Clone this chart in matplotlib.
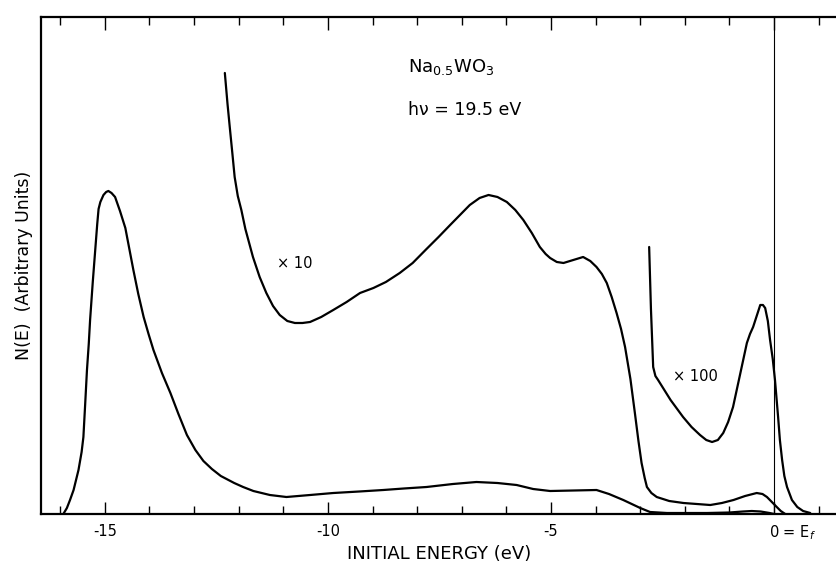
import numpy as np
import matplotlib.pyplot as plt
import matplotlib.transforms as mtransforms
from matplotlib.ticker import MultipleLocator

# energies (eV) and N(E) (arbitrary units)
main_E = [-15.93, -15.85, -15.78, -15.70, -15.59, -15.52, -15.48, -15.44, -15.40, -15.36,
          -15.33, -15.27, -15.22, -15.17, -15.14, -15.10, -15.03, -14.97, -14.92, -14.85,
          -14.77, -14.66, -14.54, -14.45, -14.36, -14.25, -14.13, -14.02, -13.91, -13.72,
          -13.53, -13.35, -13.16, -12.97, -12.79, -12.60, -12.40, -12.10, -11.90, -11.67,
          -11.30, -10.93, -10.40, -9.88, -9.30, -8.76, -8.30, -7.79, -7.20, -6.67,
          -6.20, -5.77, -5.40, -5.02, -4.50, -3.98, -3.70, -3.38, -3.00, -2.78,
          -2.40, -1.50, -1.00, -0.70, -0.50, -0.30, -0.10, 0.00]
main_N = [0, 6, 14, 24, 44, 62, 77, 110, 144, 170,
          194, 232, 261, 290, 305, 312, 319, 322, 323, 321,
          317, 303, 286, 265, 244, 220, 197, 180, 164, 141,
          121, 100, 79, 64, 53, 45, 38, 31, 27, 23,
          19, 17, 19, 21, 22.5, 24, 25.5, 27, 30, 32,
          31, 29, 25, 23, 23.5, 24, 20, 14, 6, 2,
          1, 1, 1.5, 2.5, 3, 2.5, 1, 0]

x10_E = [-12.31, -12.25, -12.20, -12.14, -12.09, -12.02, -11.94, -11.85, -11.68, -11.53,
         -11.38, -11.23, -11.08, -10.91, -10.74, -10.57, -10.40, -10.15, -9.88, -9.58,
         -9.28, -8.98, -8.70, -8.39, -8.10, -7.79, -7.52, -7.26, -7.04, -6.82,
         -6.60, -6.40, -6.20, -5.99, -5.80, -5.62, -5.43, -5.25, -5.12, -5.02,
         -4.87, -4.72, -4.50, -4.28, -4.12, -3.98, -3.86, -3.75, -3.64, -3.53,
         -3.43, -3.34, -3.22, -3.12, -3.04, -2.97, -2.90, -2.85, -2.75, -2.63,
         -2.35, -2.03, -1.73, -1.43, -1.17, -0.91, -0.65, -0.39, -0.26, -0.16,
         -0.05, 0.06, 0.15, 0.25]
x10_N = [441, 410, 387, 360, 337, 318, 304, 285, 257, 237,
         221, 208, 199, 193, 191, 191, 192, 197, 204, 212,
         221, 226, 232, 241, 251, 265, 277, 289, 299, 309,
         316, 319, 317, 312, 304, 294, 281, 267, 260, 256,
         252, 251, 254, 257, 253, 247, 240, 231, 217, 201,
         185, 167, 135, 101, 73, 51, 36, 27, 21, 17,
         13, 11, 10, 9, 11, 14, 18, 21, 20, 17,
         12, 7, 3, 0]

x100_E = [-2.80, -2.76, -2.71, -2.66, -2.60, -2.32, -2.04, -1.85, -1.66, -1.52,
          -1.39, -1.26, -1.14, -1.03, -0.92, -0.76, -0.61, -0.54, -0.47, -0.39,
          -0.31, -0.25, -0.20, -0.14, -0.09, -0.03, 0.02, 0.09, 0.13, 0.18,
          0.23, 0.29, 0.40, 0.52, 0.65, 0.81]
x100_N = [267, 205, 147, 138, 134, 114, 97, 87, 79, 74,
          72, 74, 81, 92, 107, 140, 171, 180, 187, 198,
          209, 209, 206, 193, 174, 155, 134, 97, 74, 54,
          38, 27, 14, 7, 3, 1]

tick_pos = [-15, -10, -5, 0]
tick_labels = ['-15', '-10', '-5', '0 = E$_f$']

fig = plt.figure(figsize=(8.37, 5.62), dpi=100)
ax = fig.add_axes([0.049, 0.0854, 0.951, 0.8844])

lw = 1.6
for xs, ys in [(main_E, main_N), (x10_E, x10_N), (x100_E, x100_N)]:
    ax.plot(xs, ys, color='black', lw=lw, solid_joinstyle='round', solid_capstyle='round')
ax.axvline(0, color='black', lw=0.8)

ax.set_xlim(-16.43, 1.41)
ax.set_ylim(0, 497)

ax.spines['right'].set_visible(False)
for s in ['top', 'left', 'bottom']:
    ax.spines[s].set_linewidth(1.6)

ax.set_xticks(tick_pos)
ax.set_xticklabels(tick_labels, fontsize=10.5)
ax.xaxis.set_minor_locator(MultipleLocator(1))
ax.set_yticks([])
ax.tick_params(axis='x', which='major', direction='in', length=9, width=1.0,
               top=True, pad=7)
ax.tick_params(axis='x', which='minor', direction='in', length=6, width=1.0, top=True)
lab0 = ax.get_xticklabels()[-1]
lab0.set_ha('left')
lab0.set_transform(lab0.get_transform() +
                   mtransforms.ScaledTranslation(-5 / 100, 0, fig.dpi_scale_trans))

ax.set_xlabel('INITIAL ENERGY (eV)', fontsize=13, labelpad=2)
ax.set_ylabel('N(E)  (Arbitrary Units)', fontsize=12.5, labelpad=6)

ax.text(-8.21, 442, 'Na$_{0.5}$WO$_3$', fontsize=13, va='baseline')
ax.text(-8.21, 399, 'h\u03bd = 19.5 eV', fontsize=12.5, va='baseline')
ax.text(-11.14, 250, '\u00d7 10', fontsize=10.5, va='center')
ax.text(-2.26, 137, '\u00d7 100', fontsize=10.5, va='center')

fig.savefig('out.png', dpi=100)
